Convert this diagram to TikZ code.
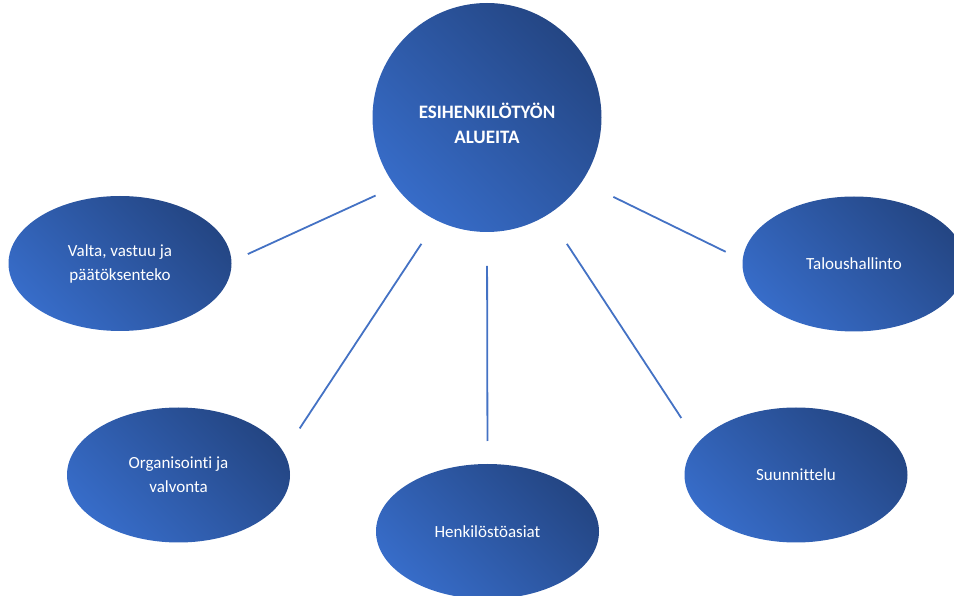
\documentclass[tikz,border=0pt]{standalone}
\usepackage{fontspec}
\setmainfont{Carlito}[Ligatures=NoCommon]
\usepackage{tikz}
\usetikzlibrary{shapes}

\definecolor{bubbledark}{RGB}{36,70,132}
\definecolor{bubblelight}{RGB}{55,108,200}
\definecolor{linkblue}{RGB}{68,114,196}

\tikzset{
	bubble/.style={ellipse, minimum width=223pt, minimum height=135pt, inner sep=0pt, outer sep=0pt,
		top color=bubbledark, bottom color=bubblelight, shading angle=-45,
		text=white, align=center, font=\fontsize{17}{24}\selectfont},
	hubble/.style={bubble, circle, minimum size=229pt, font=\fontsize{19}{25}\selectfont\bfseries},
	link/.style={linkblue, line width=1.8pt}
}

\begin{document}
\begin{tikzpicture}[x=1pt,y=1pt]
		\useasboundingbox (0,0) rectangle (954,595);
		\clip (0,0) rectangle (954,595);

		\node[hubble] (hub) at (487,477.5) {\rule{0pt}{28pt}ESIHENKILÖTYÖN\\ALUEITA};

		\node[bubble] (valta) at (120,331.5) {Valta, vastuu ja\\päätöksenteko};
		\node[bubble] (talous) at (854,331) {Taloushallinto};
		\node[bubble] (org) at (178.5,120) {Organisointi ja\\valvonta};
		\node[bubble] (henk) at (487.5,63.5) {Henkilöstöasiat};
		\node[bubble] (suunn) at (796,120) {Suunnittelu};

		\draw[link, shorten <=22pt, shorten >=18pt] (hub.217) -- (valta.1);
		\draw[link, shorten <=28pt, shorten >=29pt] (hub.244) -- (org.12);
		\draw[link, shorten <=34pt, shorten >=23pt] (hub.south) -- (henk.north);
		\draw[link, shorten <=35pt, shorten >=30pt] (hub.302) -- (suunn.162);
		\draw[link, shorten <=35pt, shorten >=19pt] (hub.326) -- (talous.178);
		%\draw[step=50pt,gray,very thin] (0,0) grid (954,595);
	\end{tikzpicture}
\end{document}
